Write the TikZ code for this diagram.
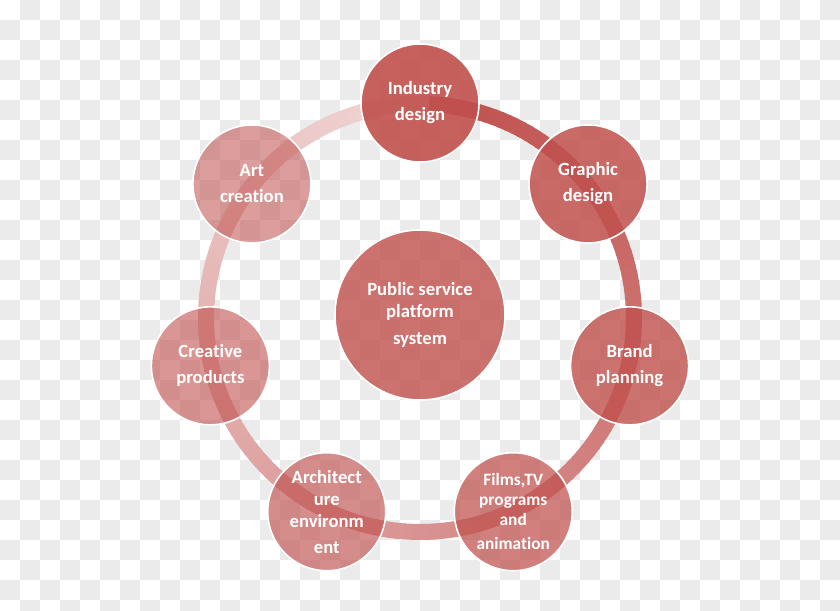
\documentclass[tikz,border=0pt]{standalone}
\usepackage{fontspec}
\setmainfont[Ligatures={NoCommon}]{Carlito}
\usepackage{tikz}
\definecolor{ringred}{RGB}{192,80,77}
\definecolor{checker}{RGB}{235,235,235}

\begin{document}
\begin{tikzpicture}[
  x=0.75pt, y=0.75pt,
  petal/.style={circle, draw=white, line width=1.2pt, fill=ringred,
                text=white, text opacity=1, align=center, inner sep=0pt,
                minimum size=88.5pt, font=\bfseries\fontsize{14}{19.5}\selectfont},
  hub/.style={petal, minimum size=127.5pt, font=\bfseries\fontsize{14}{16.5}\selectfont}]
% checker background
\useasboundingbox (-420,-293) rectangle (420,318);
\begin{scope}
  \clip (-420,-293) rectangle (420,318);
  \fill[white] (-420,-293) rectangle (420,318);
  \foreach \i in {0,...,41}
    \foreach \j in {0,...,30} {
      \pgfmathparse{int(mod(\i+\j,2))}
      \ifnum\pgfmathresult=1
        \fill[checker] (20*\i-420,318-20*\j) rectangle ++(20,-20);
      \fi
    }
\end{scope}
% ring, fading clockwise
\foreach \k in {0,...,179} {
  \pgfmathsetmacro{\p}{100-0.43*\k}
  \draw[ringred!\p!white, line width=12pt]
    (88-2*\k:214) arc[start angle=88-2*\k, end angle=85.5-2*\k, radius=214];
}
\node[hub, fill opacity=0.8] (ctr) at (0,3)
  {Public service\\platform\\[4pt]system};
\node[petal, fill opacity=0.9]  (ind) at (90:215)       {Industry\\design};
\node[petal, fill opacity=0.85] (gra) at (38.57:215)    {Graphic\\design};
\node[petal, fill opacity=0.8]  (bra) at (-12.86:215)   {Brand\\planning};
\node[petal, fill opacity=0.72, font=\bfseries\fontsize{13}{15}\selectfont]
  (fil) at (-64.29:215) {Films,TV\\programs\\and\\[3pt]animation};
\node[petal, fill opacity=0.65, font=\bfseries\fontsize{14}{16.5}\selectfont]
  (arc) at (-115.71:215) {Architect\\ure\\environm\\[3pt]ent};
\node[petal, fill opacity=0.6]  (cre) at (-167.14:215)  {Creative\\products};
\node[petal, fill opacity=0.55] (art) at (-218.57:215)  {Art\\creation};
\end{tikzpicture}
\end{document}
